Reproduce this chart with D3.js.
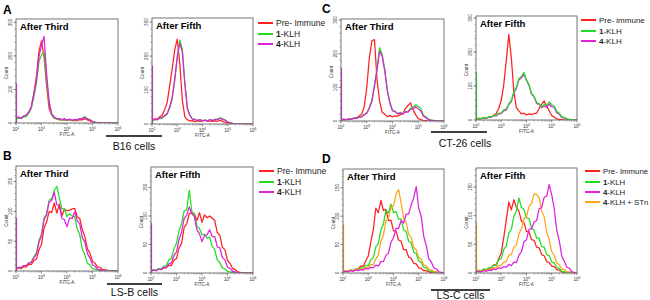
<!DOCTYPE html>
<html><head><meta charset="utf-8">
<script src="https://cdn.jsdelivr.net/npm/d3@7"></script>
<style>body{margin:0;background:#fff}svg{display:block;font-family:"Liberation Sans",Arial,sans-serif}</style>
</head><body><svg id="c" width="650" height="300"></svg>
<script>
// log10(FITC-A) bin centres
const bins = [2.0,2.1,2.2,2.3,2.4,2.5,2.6,2.7,2.8,2.9,3.0,3.1,3.2,3.3,3.4,3.5,3.6,3.7,3.8,3.9,4.0,4.1,4.2,4.3,4.4,4.5,4.6,4.7,4.8,4.9,5.0,5.1,5.2,5.3,5.4,5.5,5.6,5.7,5.8,5.9,6.0];
const xTickExps = [2,3,4,5,6];
const seriesNames = ["Pre- Immune","1-KLH","4-KLH","4-KLH + STn"];

// A: B16 cells
const a3Pre  = [12,16,13,19,21,31,46,88,138,214,245,196,112,43,24,14,13,9,10,9,8,10,7,8,7,10,9,13,9,6,4,2,1,0,0,0,0,0,0,0,0];
const a3Klh1 = [10,15,14,18,19,29,44,77,118,183,203,212,128,62,24,15,11,12,9,10,9,10,8,10,9,13,14,19,13,10,5,3,1,0,0,0,0,0,0,0,0];
const a3Klh4 = [14,18,14,21,24,33,49,87,128,197,233,258,148,62,27,18,13,13,10,13,9,12,8,11,10,13,13,16,11,9,4,2,1,0,0,0,0,0,0,0,0];
const a5Pre  = [10,15,14,21,26,42,63,112,162,218,250,178,72,21,13,9,10,7,10,8,9,11,8,9,8,9,8,11,7,5,3,2,1,0,0,0,0,0,0,0,0];
const a5Klh1 = [8,13,12,16,17,23,29,47,73,128,193,247,222,123,48,26,15,14,11,12,9,12,9,12,11,14,14,18,15,12,6,4,2,1,0,0,0,0,0,0,0];
const a5Klh4 = [10,14,13,18,19,25,31,50,78,133,198,238,213,118,46,25,14,13,10,13,10,11,10,13,10,13,13,17,13,11,5,3,1,0,0,0,0,0,0,0,0];
// C: CT-26 cells
const c3Pre  = [3,5,4,6,5,9,9,15,20,42,98,188,238,242,122,58,26,20,13,16,12,15,14,19,21,37,46,54,33,19,7,4,2,1,0,0,0,0,0,0,0];
const c3Klh1 = [3,6,3,7,6,9,8,12,13,20,24,40,62,108,157,218,197,153,92,55,32,29,22,25,22,28,28,38,40,48,43,37,18,12,5,3,2,1,0,0,0];
const c3Klh4 = [2,5,4,6,5,8,8,11,12,18,23,38,58,103,152,207,192,148,89,52,30,28,21,24,21,27,26,35,36,42,36,30,14,10,4,2,1,0,0,0,0];
const c5Pre  = [3,5,4,6,5,9,9,14,19,34,58,104,176,252,182,83,36,27,18,20,15,18,16,19,20,34,46,56,40,27,13,9,3,2,1,0,0,0,0,0,0];
const c5Klh1 = [3,5,4,7,6,9,9,13,14,20,21,30,33,48,58,84,97,122,128,140,118,104,78,70,52,48,38,45,43,53,45,41,25,20,9,8,3,2,1,0,0];
const c5Klh4 = [2,4,3,6,5,8,8,12,12,18,19,27,30,45,54,80,93,118,124,134,116,102,76,68,49,46,36,41,38,47,39,37,21,17,7,6,2,1,0,0,0];
// B: LS-B cells
const b3Pre  = [3,5,4,7,7,11,11,17,20,35,45,72,82,100,98,114,97,112,92,104,101,102,104,105,91,88,69,58,37,30,16,13,7,6,2,2,1,0,0,0,0];
const b3Klh1 = [4,6,5,9,9,14,15,24,30,51,62,89,96,119,121,135,142,122,104,104,91,96,92,91,71,61,37,27,13,10,4,3,2,1,0,0,0,0,0,0,0];
const b3Klh4 = [4,6,6,9,9,13,14,22,28,48,59,86,94,116,118,132,111,109,88,86,74,89,88,99,84,79,56,48,29,22,10,8,3,2,1,0,0,0,0,0,0];
const b5Pre  = [3,5,4,7,6,9,9,14,13,23,25,44,52,80,86,104,106,104,92,106,89,102,97,100,96,92,71,66,45,41,22,17,8,6,2,1,0,0,0,0,0];
const b5Klh1 = [4,6,5,8,7,12,13,23,26,42,52,74,87,109,111,145,108,102,82,78,67,68,61,63,47,41,23,18,9,7,3,2,1,0,0,0,0,0,0,0,0];
const b5Klh4 = [3,5,4,7,6,10,10,16,18,31,37,59,72,96,101,116,104,99,76,69,55,66,67,76,64,64,46,44,27,23,10,8,3,2,1,0,0,0,0,0,0];
// D: LS-C cells
const d3Pre  = [2,4,3,5,4,7,7,12,12,21,30,54,76,114,106,128,110,112,92,93,74,74,58,56,41,41,28,26,17,16,9,8,4,4,2,1,0,0,0,0,0];
const d3Klh1 = [3,4,3,5,4,7,6,9,9,14,13,23,27,46,52,76,86,110,106,121,106,108,95,95,76,73,56,53,37,34,21,19,10,9,4,3,2,1,0,0,0];
const d3Klh4 = [2,3,2,4,3,5,4,6,5,8,7,10,9,14,12,20,20,31,35,54,62,79,78,92,88,103,104,120,132,152,114,99,64,48,25,19,9,7,2,1,0];
const d3Stn  = [3,4,3,5,4,6,5,8,7,10,10,15,14,25,32,56,66,92,96,116,118,139,147,124,96,89,68,63,45,41,27,24,14,12,6,5,3,2,1,0,0];
const d5Pre  = [3,4,3,6,5,8,8,14,14,25,35,62,92,124,110,128,114,108,90,88,72,72,58,57,45,44,32,30,20,18,12,11,6,5,2,1,0,0,0,0,0];
const d5Klh1 = [4,5,4,7,6,9,9,14,13,23,25,41,47,69,76,99,108,131,114,111,96,95,78,75,61,61,46,45,32,30,19,18,9,8,3,2,1,0,0,0,0];
const d5Klh4 = [2,3,2,4,3,5,4,7,6,9,8,11,10,15,13,19,18,31,37,55,58,76,77,89,91,112,114,132,134,154,136,112,74,56,29,20,10,8,2,1,0];
const d5Stn  = [3,4,3,5,4,7,6,9,9,13,13,19,20,31,32,45,49,68,77,95,98,116,121,138,137,131,108,98,71,58,37,30,18,14,7,6,2,2,1,0,0];
// counts piled at the lower edge (10^2)
const edgeCounts = {a3:118, a5:172, c3:157, c5:140, b3:89, b5:88, d3:86, d5:88};

// ---------- layout & style ----------
const col = {pre:"#ff2020", k1:"#22dd22", k4:"#dd22dd", stn:"#ffa31a"};
const svg = d3.select("#c");
const panels = [
  {id:"a3", x:16, y:19, w:102, h:104, ymax:310, major:100, minor:20, title:"After Third", s:[[a3Pre,"pre"],[a3Klh1,"k1"],[a3Klh4,"k4"]], edge:"k4"},
  {id:"a5", x:152,y:18, w:101, h:106, ymax:312, major:100, minor:20, title:"After Fifth", s:[[a5Pre,"pre"],[a5Klh1,"k1"],[a5Klh4,"k4"]], edge:"k4"},
  {id:"c3", x:341,y:19, w:103, h:102, ymax:303, major:100, minor:20, title:"After Third", s:[[c3Pre,"pre"],[c3Klh1,"k1"],[c3Klh4,"k4"]], edge:"k4"},
  {id:"c5", x:476,y:16, w:101, h:104, ymax:306, major:100, minor:20, title:"After Fifth", s:[[c5Pre,"pre"],[c5Klh4,"k4"],[c5Klh1,"k1"]], edge:"k1"},
  {id:"b3", x:16, y:166,w:102, h:105, ymax:176, major:50, minor:10, title:"After Third", s:[[b3Pre,"pre"],[b3Klh1,"k1"],[b3Klh4,"k4"]], edge:"k4"},
  {id:"b5", x:151,y:167,w:102, h:106, ymax:186, major:50, minor:10, title:"After Fifth", s:[[b5Pre,"pre"],[b5Klh1,"k1"],[b5Klh4,"k4"]], edge:"k4"},
  {id:"d3", x:343,y:169,w:101, h:104, ymax:183, major:50, minor:10, title:"After Third", s:[[d3Pre,"pre"],[d3Klh1,"k1"],[d3Stn,"stn"],[d3Klh4,"k4"]], edge:"stn"},
  {id:"d5", x:476,y:168,w:101, h:105, ymax:183, major:50, minor:10, title:"After Fifth", s:[[d5Pre,"pre"],[d5Klh1,"k1"],[d5Stn,"stn"],[d5Klh4,"k4"]], edge:"stn"}
];

const fs = 4.6;
panels.forEach(p => {
  const g = svg.append("g");
  const xs = d3.scaleLog().domain([1e2,1e6]).range([p.x, p.x+p.w]);
  const ys = d3.scaleLinear().domain([0,p.ymax]).range([p.y+p.h, p.y]);
  const cid = "clip-"+p.id;
  svg.append("clipPath").attr("id",cid).append("rect").attr("x",p.x).attr("y",p.y).attr("width",p.w).attr("height",p.h);
  const minors = [];
  for (let e=2;e<6;e++) for (let m=2;m<10;m++) minors.push(m*Math.pow(10,e));
  g.selectAll(".xm").data(minors).join("line").attr("x1",d=>xs(d)).attr("x2",d=>xs(d))
    .attr("y1",p.y+p.h).attr("y2",p.y+p.h+1.5).attr("stroke","#777").attr("stroke-width",0.6);
  g.selectAll(".xM").data(xTickExps).join("line").attr("x1",d=>xs(Math.pow(10,d))).attr("x2",d=>xs(Math.pow(10,d)))
    .attr("y1",p.y+p.h).attr("y2",p.y+p.h+2.5).attr("stroke","#666").attr("stroke-width",0.7);
  const xl = g.selectAll(".xl").data(xTickExps).join("text").attr("x",d=>xs(Math.pow(10,d))).attr("y",p.y+p.h+7.5)
    .attr("text-anchor","middle").attr("font-size",fs).attr("fill","#333");
  xl.append("tspan").text("10");
  xl.append("tspan").attr("dy",-1.6).attr("font-size",3.4).text(d=>d);
  g.append("text").attr("x",p.x+p.w/2).attr("y",p.y+p.h+13).attr("text-anchor","middle").attr("font-size",fs).attr("fill","#333").text("FITC-A");
  const ym = d3.range(0,p.ymax,p.minor);
  g.selectAll(".ym").data(ym).join("line").attr("x1",p.x).attr("x2",p.x-1.5).attr("y1",d=>ys(d)).attr("y2",d=>ys(d)).attr("stroke","#777").attr("stroke-width",0.6);
  const yM = d3.range(0,p.ymax,p.major);
  g.selectAll(".yM").data(yM).join("line").attr("x1",p.x).attr("x2",p.x-2.5).attr("y1",d=>ys(d)).attr("y2",d=>ys(d)).attr("stroke","#666").attr("stroke-width",0.7);
  g.selectAll(".yl").data(yM).join("text").attr("transform",d=>`translate(${p.x-4},${ys(d)}) rotate(-90)`)
    .attr("text-anchor","middle").attr("font-size",fs).attr("fill","#333").text(d=>d);
  g.append("text").attr("transform",`translate(${p.x-8.5},${p.y+p.h*0.52}) rotate(-90)`).attr("text-anchor","middle").attr("font-size",fs).attr("fill","#333").text("Count");
  g.append("line").attr("x1",p.x+0.5).attr("x2",p.x+0.5).attr("y1",ys(0)).attr("y2",ys(edgeCounts[p.id])).attr("stroke",col[p.edge]).attr("stroke-width",1.2);
  const line = d3.line().x((d,i)=>xs(Math.pow(10,bins[i]))).y(d=>ys(d));
  const cg = g.append("g").attr("clip-path",`url(#${cid})`);
  p.s.forEach(([vals,k]) => {
    cg.append("path").attr("d",line(vals)).attr("fill","none").attr("stroke",col[k]).attr("stroke-width",1.25).attr("stroke-linejoin","round");
  });
  g.append("rect").attr("x",p.x).attr("y",p.y).attr("width",p.w).attr("height",p.h).attr("fill","none").attr("stroke","#666").attr("stroke-width",0.9);
  g.append("text").attr("x",p.x+4).attr("y",p.y+11).attr("font-size",9.5).attr("font-weight","bold").attr("fill","#000").text(p.title);
});

[["A",3,14],["B",3,160],["C",322,13],["D",322,163]].forEach(([t,x,y]) =>
  svg.append("text").attr("x",x).attr("y",y).attr("font-size",12).attr("font-weight","bold").text(t));

const legends = [
  {x:258, ys:[23,34,44], keys:["pre","k1","k4"], fs:8.5},
  {x:259, ys:[171,182,192], keys:["pre","k1","k4"], fs:8.5},
  {x:581, ys:[20,31,41], keys:["pre","k1","k4"], lower:true, fs:8},
  {x:585, ys:[171,182,192,202], keys:["pre","k1","k4","stn"], fs:7.8}
];
const keyIdx = {pre:0,k1:1,k4:2,stn:3};
legends.forEach(L => {
  L.keys.forEach((k,i) => {
    const y = L.ys[i];
    svg.append("line").attr("x1",L.x).attr("x2",L.x+15).attr("y1",y).attr("y2",y).attr("stroke",col[k]).attr("stroke-width",2);
    const t = svg.append("text").attr("x",L.x+18).attr("y",y+3).attr("font-size",L.fs).attr("fill","#222");
    const name = seriesNames[keyIdx[k]];
    if (k==="pre") t.text(L.lower ? name.replace("Immune","immune") : name);
    else { t.append("tspan").attr("font-weight","bold").text(name[0]); t.append("tspan").text(name.slice(1)); }
  });
});

const groups = [
  {t:"B16 cells", x1:106, x2:162, ly:136, ty:150, dx:0},
  {t:"LS-B cells", x1:107, x2:162, ly:284, ty:296, dx:0},
  {t:"CT-26 cells", x1:431, x2:487, ly:132, ty:147, dx:6},
  {t:"LS-C cells", x1:431, x2:490, ly:290, ty:298.5, dx:0}
];
groups.forEach(G => {
  svg.append("line").attr("x1",G.x1).attr("x2",G.x2).attr("y1",G.ly).attr("y2",G.ly).attr("stroke","#000").attr("stroke-width",1.5);
  svg.append("text").attr("x",(G.x1+G.x2)/2+G.dx).attr("y",G.ty).attr("text-anchor","middle").attr("font-size",10.5).attr("fill","#111").text(G.t);
});
</script></body></html>
